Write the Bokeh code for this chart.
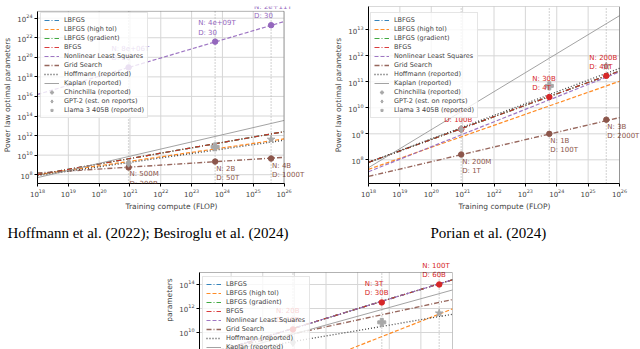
import numpy as np
from bokeh.plotting import figure
from bokeh.models import (ColumnDataSource, FixedTicker, LogTickFormatter,
                          LabelSet, Legend, LegendItem, Title, BoxAnnotation)
from bokeh.layouts import column, row
from bokeh.embed import file_html
from bokeh.resources import INLINE
from bokeh.core.properties import value

# ---------------- data ----------------
compute_ends = [1e18, 1e26]                 # training compute range of every panel
landmark_compute = [9e20, 5.8e23, 3.8e25]   # GPT-2, Chinchilla, Llama 3 405B
x_ticks = [1e18, 1e19, 1e20, 1e21, 1e22, 1e23, 1e24, 1e25, 1e26]

series_names = ["LBFGS", "LBFGS (high tol)", "LBFGS (gradient)", "BFGS",
                "Nonlinear Least Squares", "Grid Search",
                "Hoffmann (reported)", "Kaplan (reported)"]

hoffmann_reported = [8.0e7, 3.3e11]
kaplan_reported = [5.0e7, 3.5e13]

reported_names = ["Chinchilla (reported)", "GPT-2 (est. on reports)", "Llama 3 405B (reported)"]
reported_compute = [5.8e23, 9e20, 3.8e25]
reported_params = [7.0e10, 1.5e9, 4.05e11]

# Panel 1: Hoffmann et al. (2022); Besiroglu et al. (2024)
p1_lbfgs = [1.0e8, 2.5e12]
p1_lbfgs_high_tol = [1.0e8, 4.5e11]
p1_lbfgs_gradient = [1.0e8, 2.5e12]
p1_bfgs = [1.0e8, 2.5e12]
p1_nls = [1.6e16, 4.5e23]
p1_grid = [1.5e8, 6.0e9]
p1_y_ticks = [1e8, 1e10, 1e12, 1e14, 1e16, 1e18, 1e20, 1e22, 1e24]
p1_y_limits = [1.26e7, 5.0e24]
p1_nls_points = [9.3e18, 4.0e21, 1.9e23]
p1_nls_text = ["N: 8e+06T\nD: 20", "N: 4e+09T\nD: 30", "N: 2e+11T\nD: 30"]
p1_grid_points = [5.5e8, 2.2e9, 4.5e9]
p1_grid_text = ["N: 500M\nD: 300B", "N: 2B\nD: 50T", "N: 4B\nD: 1000T"]

# Panel 2: Porian et al. (2024)
p2_lbfgs = [8.0e7, 2.6e11]
p2_lbfgs_high_tol = [4.3e7, 1.05e11]
p2_lbfgs_gradient = [8.0e7, 2.6e11]
p2_bfgs = [8.0e7, 2.6e11]
p2_nls = [3.5e7, 2.4e11]
p2_grid = [2.3e7, 4.2e9]
p2_y_ticks = [1e8, 1e9, 1e10, 1e11, 1e12, 1e13]
p2_y_limits = [1.23e7, 7.9e13]
p2_bfgs_points = [1.5e9, 2.6e10, 1.7e11]
p2_bfgs_text = ["N: 1B\nD: 100B", "N: 30B\nD: 4T", "N: 200B\nD: 40T"]
p2_grid_points = [1.6e8, 1.0e9, 3.5e9]
p2_grid_text = ["N: 200M\nD: 1T", "N: 1B\nD: 100T", "N: 3B\nD: 2000T"]

# Panel 3 (cropped at the bottom of the picture)
p3_lbfgs = [9.0e7, 2.5e14]
p3_lbfgs_high_tol = [5.0e3, 9.3e11]
p3_lbfgs_gradient = [9.0e7, 2.5e14]
p3_bfgs = [9.0e7, 2.5e14]
p3_nls = [9.0e7, 2.5e14]
p3_grid = [1.6e8, 5.6e12]
p3_y_ticks = [1e8, 1e10, 1e12, 1e14]
p3_y_limits = [3.83e8, 1.0e15]
p3_bfgs_points = [1.8e10, 3.2e12, 1.0e14]
p3_bfgs_text = ["N: 20B\nD: 10B", "N: 3T\nD: 30B", "N: 100T\nD: 60B"]

# ---------------- styling ----------------
FONT = "DejaVu Sans"
STYLE = {
    "LBFGS": dict(color="#1f77b4", dash="5 2 1 2", width=1.2),
    "LBFGS (high tol)": dict(color="#ff7f0e", dash="4 2", width=1.2),
    "LBFGS (gradient)": dict(color="#2ca02c", dash="5 2 1 2", width=1.2),
    "BFGS": dict(color="#d62728", dash="5 2 1 2", width=1.2),
    "Nonlinear Least Squares": dict(color="#9467bd", dash="4 2", width=1.2),
    "Grid Search": dict(color="#8c564b", dash="5 2 1 2", width=1.4),
    "Hoffmann (reported)": dict(color="#333333", dash="1 2", width=1.3),
    "Kaplan (reported)": dict(color="#999999", dash="solid", width=1.0),
}
REPORTED_MARKERS = ["plus", "diamond", "star"]
GRAY = "#a8a8a8"
GRID = "#d6d6d6"


def extend(lo, hi, box_px, extra_px):
    """upper range limit so that the plotting area extends extra_px beyond the box"""
    decades = np.log10(hi / lo)
    return hi * 10 ** (extra_px * decades / box_px)


def make_panel(size, borders, box_px, ext_px, y_limits, y_ticks, lines, labelled,
               legend_xy, caption=None, caption_offset=0, show_x=True,
               ylabel="Power law optimal parameters"):
    width, height = size
    left, right, top, bottom = borders
    xlo, xhi = compute_ends
    ylo, yhi = y_limits
    x_end = extend(xlo, xhi, box_px[0], ext_px[0])
    y_end = extend(ylo, yhi, box_px[1], ext_px[1])
    p = figure(width=width, height=height, x_axis_type="log", y_axis_type="log",
               x_range=(xlo, x_end), y_range=(ylo, y_end),
               output_backend="svg", toolbar_location=None,
               min_border_left=left, min_border_right=right,
               min_border_top=top, min_border_bottom=bottom)
    p.background_fill_color = "white"
    p.border_fill_color = "white"
    p.outline_line_color = None
    p.grid.visible = False

    p.xaxis.ticker = FixedTicker(ticks=x_ticks, minor_ticks=[])
    p.yaxis.ticker = FixedTicker(ticks=y_ticks, minor_ticks=[])
    p.xaxis.bounds = (xlo, xhi)
    p.yaxis.bounds = (ylo, yhi)
    for ax in p.axis:
        ax.formatter = LogTickFormatter()
        ax.major_label_text_font = FONT
        ax.major_label_text_font_size = "7px"
        ax.axis_label_text_font = FONT
        ax.axis_label_text_font_size = "7.5px"
        ax.axis_label_text_font_style = "normal"
        ax.axis_line_color = "black"
        ax.major_tick_out = 3
        ax.major_tick_in = 0
        ax.minor_tick_out = 0
        ax.minor_tick_in = 0
        ax.major_label_standoff = 2
        ax.axis_label_standoff = 2
    if show_x:
        p.xaxis.axis_label = "Training compute (FLOP)"
    else:
        p.xaxis.visible = False
    p.yaxis.axis_label = ylabel

    # grid lines, limited to the axes box
    gx = [t for t in x_ticks if xlo <= t <= xhi]
    gy = [t for t in y_ticks if ylo <= t <= yhi]
    p.segment(x0=gx, y0=[ylo] * len(gx), x1=gx, y1=[yhi] * len(gx),
              line_color=GRID, line_width=1)
    p.segment(x0=[xlo] * len(gy), y0=gy, x1=[xhi] * len(gy), y1=gy,
              line_color=GRID, line_width=1)
    # dotted reference verticals
    n = len(landmark_compute)
    p.segment(x0=landmark_compute, y0=[ylo] * n, x1=landmark_compute, y1=[yhi] * n,
              line_color="#b8b8b8", line_dash="1 2", line_width=1.3)

    renderers = {}
    for name in series_names:
        st = STYLE[name]
        renderers[name] = p.line(x=compute_ends, y=lines[name], line_color=st["color"],
                                 line_dash=st["dash"], line_width=st["width"],
                                 line_alpha=0.9)

    for name, pts, texts, where in labelled:
        col = STYLE[name]["color"]
        p.scatter(x=landmark_compute, y=pts, marker="circle", size=5.5,
                  fill_color=col, line_color=col)
        src = ColumnDataSource(dict(x=landmark_compute, y=pts, text=texts))
        if where == "above":
            ls = LabelSet(x="x", y="y", text="text", source=src, x_offset=-17,
                          y_offset=5, text_baseline="bottom", text_align="left")
        else:
            ls = LabelSet(x="x", y="y", text="text", source=src, x_offset=1,
                          y_offset=-3, text_baseline="top", text_align="left")
        ls.text_font = value(FONT)
        ls.text_font_size = value("7px")
        ls.text_color = value(col)
        ls.text_line_height = 1.15
        p.add_layout(ls)

    rep_renderers = []
    for i, nm in enumerate(reported_names):
        rep_renderers.append(p.scatter(x=[reported_compute[i]], y=[reported_params[i]],
                                       marker=REPORTED_MARKERS[i], size=8,
                                       fill_color=GRAY, line_color=GRAY))

    # axes box (top and right edges; left/bottom are the axis lines)
    p.add_layout(BoxAnnotation(left=xlo, right=xhi, bottom=ylo, top=yhi,
                               fill_color=None, line_color="black", line_width=1))

    items = [LegendItem(label=nm, renderers=[renderers[nm]]) for nm in series_names]
    items += [LegendItem(label=nm, renderers=[r]) for nm, r in zip(reported_names, rep_renderers)]
    legend = Legend(items=items, location=legend_xy, label_text_font=FONT,
                    label_text_font_size="6.5px", glyph_width=15, glyph_height=8,
                    label_height=8, spacing=1, padding=3, margin=0,
                    label_standoff=5, border_line_color="#cccccc",
                    background_fill_alpha=0.8)
    p.add_layout(legend)

    if caption:
        p.add_layout(Title(text=caption, align="left", offset=caption_offset,
                           text_font="Liberation Serif", text_font_size="15px",
                           text_font_style="normal", text_color="black",
                           vertical_align="bottom", standoff=18), "below")
    return p


lines1 = dict(zip(series_names, [p1_lbfgs, p1_lbfgs_high_tol, p1_lbfgs_gradient, p1_bfgs,
                                 p1_nls, p1_grid, hoffmann_reported, kaplan_reported]))
lines2 = dict(zip(series_names, [p2_lbfgs, p2_lbfgs_high_tol, p2_lbfgs_gradient, p2_bfgs,
                                 p2_nls, p2_grid, hoffmann_reported, kaplan_reported]))
lines3 = dict(zip(series_names, [p3_lbfgs, p3_lbfgs_high_tol, p3_lbfgs_gradient, p3_bfgs,
                                 p3_nls, p3_grid, hoffmann_reported, kaplan_reported]))

p1 = make_panel((330, 250), (30, 25, 0, 67), (253, 178), (22, 5),
                p1_y_limits, p1_y_ticks, lines1,
                [("Nonlinear Least Squares", p1_nls_points, p1_nls_text, "above"),
                 ("Grid Search", p1_grid_points, p1_grid_text, "below")],
                legend_xy=(3, 65),
                caption="Hoffmann et al. (2022); Besiroglu et al. (2024)", caption_offset=-30)
p2 = make_panel((310, 250), (38, 0, 6, 67), (251, 177), (21, 0),
                p2_y_limits, p2_y_ticks, lines2,
                [("BFGS", p2_bfgs_points, p2_bfgs_text, "above"),
                 ("Grid Search", p2_grid_points, p2_grid_text, "below")],
                legend_xy=(2, 65),
                caption="Porian et al. (2024)", caption_offset=62)
p3 = make_panel((462, 99), (199, 10, 0, 0), (253, 77), (0, 22),
                p3_y_limits, p3_y_ticks, lines3,
                [("BFGS", p3_bfgs_points, p3_bfgs_text, "above")],
                legend_xy=(3, -33), show_x=False, ylabel="parameters")

layout = column(row(p1, p2), p3)
open("out.html", "w").write(file_html(layout, INLINE))
